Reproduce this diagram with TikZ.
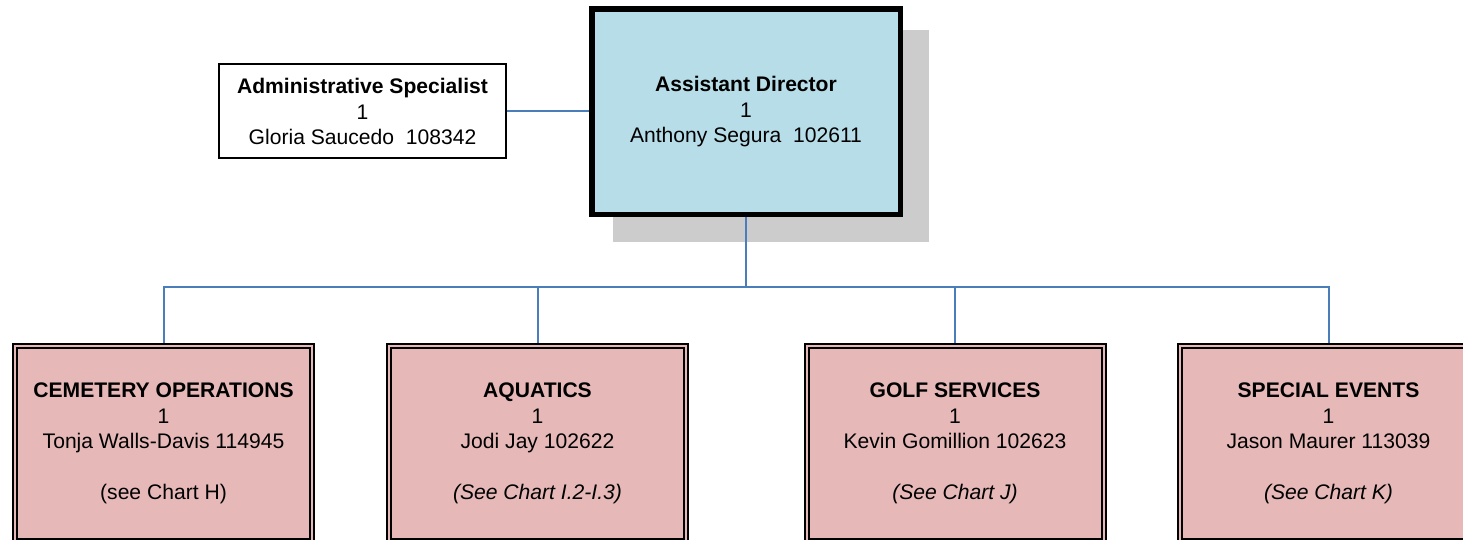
\documentclass[tikz,border=0pt]{standalone}
\usepackage{fontspec}
\setmainfont{Liberation Sans}
\usetikzlibrary{backgrounds}
\definecolor{lineblue}{RGB}{74,126,187}
\definecolor{boxblue}{RGB}{183,222,232}
\definecolor{boxpink}{RGB}{230,185,184}
\begin{document}
\begin{tikzpicture}[x=0.5pt,y=-0.5pt,
  every node/.style={font=\fontsize{10.55}{12.75}\selectfont, align=center, inner sep=0pt},
  admin/.style={draw, line width=1pt, minimum width=143.5pt, minimum height=47pt},
  director/.style={draw, fill=boxblue, line width=2pt, minimum width=155pt, minimum height=103.5pt},
  division/.style={draw, fill=boxpink, line width=1pt, double=boxpink, double distance=1pt,
    minimum width=148.5pt, minimum height=97.5pt},
  link/.style={lineblue, line width=1pt}]
  \useasboundingbox (0,0) rectangle (1463,540);
  \def\skipline{\\[12.75pt]}

  \node[director] (ad) at (746,112) {\textbf{Assistant Director}\\1\\Anthony Segura\ \ 102611};
  \draw[line width=1pt] ([shift={(2.25pt,-2.25pt)}]ad.north west) rectangle ([shift={(-2.25pt,2.25pt)}]ad.south east);

  \node[admin] (spec) at (362.5,111.5) {\textbf{Administrative Specialist}\\1\\Gloria Saucedo\ \ 108342};

  \node[division] (cem) at (163.5,443.5) {\textbf{CEMETERY OPERATIONS}\\1\\Tonja Walls-Davis 114945\skipline (see Chart H)};
  \node[division] (aqua) at (537.5,443.5) {\textbf{AQUATICS}\\1\\Jodi Jay 102622\skipline \textit{(See Chart I.2-I.3)}};
  \node[division] (golf) at (955,443.5) {\textbf{GOLF SERVICES}\\1\\Kevin Gomillion 102623\skipline \textit{(See Chart J)}};
  \node[division] (events) at (1328.5,443.5) {\textbf{SPECIAL EVENTS}\\1\\Jason Maurer 113039\skipline \textit{(See Chart K)}};

  \coordinate (bus) at (746,286.5);

  \begin{scope}[on background layer]
    % shadow of the director box
    \fill[gray!40] (613,30) rectangle (929,242);
    \draw[link] (spec.east) -- (spec.east -| ad.west);
    \draw[link] (ad.south) -- (bus);
    \foreach \d in {cem,aqua,golf,events}
      \draw[link] (bus) -| (\d.north);
  \end{scope}
\end{tikzpicture}
\end{document}
